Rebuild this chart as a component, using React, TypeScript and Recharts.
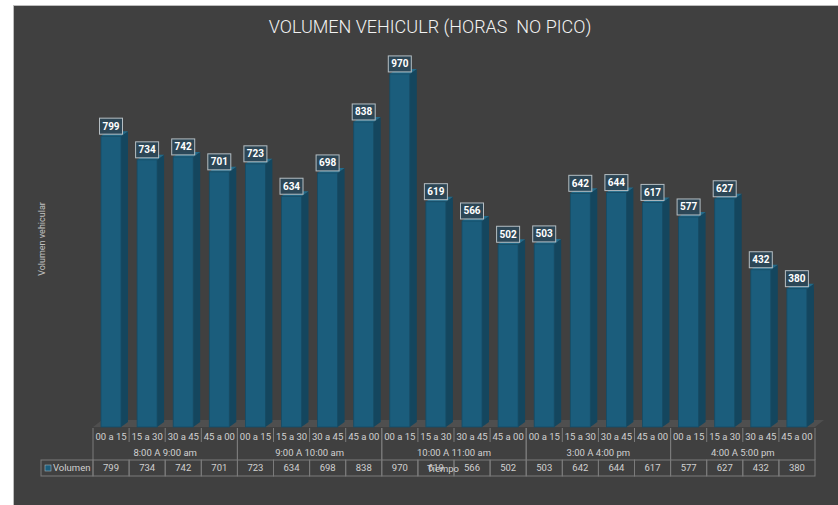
import React from 'react';
import { BarChart, Bar, XAxis, YAxis, LabelList } from 'recharts';

// intervalos de 15 min dentro de cada hora
const intervals = ['00 a 15', '15 a 30', '30 a 45', '45 a 00'];
const hourGroups = ['8:00 A 9:00 am', '9:00 A 10:00 am', '10:00 A 11:00 am', '3:00 A 4:00 pm', '4:00 A 5:00 pm'];
const volumen = [799, 734, 742, 701, 723, 634, 698, 838, 970, 619, 566, 502, 503, 642, 644, 617, 577, 627, 432, 380];

const data = volumen.map((v, i) => ({
  key: `${hourGroups[Math.floor(i / 4)]} ${intervals[i % 4]}`,
  label: intervals[i % 4],
  group: hourGroups[Math.floor(i / 4)],
  volumen: v,
}));

const W = 838;
const H = 505;
const PLOT_LEFT = 93;
const PLOT_RIGHT = 815;
const PLOT_TOP = 63;
const PLOT_BOTTOM = 427;
const BAND = (PLOT_RIGHT - PLOT_LEFT) / volumen.length;
const FONT = 'Roboto, "Noto Sans", sans-serif';
const GRID = '#7b7b7b';
const TEXT = '#d0d0d0';

const Bar3D = (props: any) => {
  const { x, y, width, height } = props;
  const d = 7;
  const h = 5;
  const b = y + height;
  return (
    <g>
      <polygon points={`${x + width},${y} ${x + width + d},${y - h} ${x + width + d},${b - h} ${x + width},${b}`} fill="#14465e" />
      <polygon points={`${x},${y} ${x + d},${y - h} ${x + width + d},${y - h} ${x + width},${y}`} fill="#226b8b" />
      <rect x={x} y={y} width={width} height={height} fill="#1b5d7c" stroke="#154c66" strokeWidth={0.8} />
    </g>
  );
};

const ValueBox = (props: any) => {
  const { x, y, width, value } = props;
  const cx = x + width / 2;
  const bw = 23;
  const bh = 16;
  return (
    <g>
      <rect x={cx - bw / 2} y={y - bh - 2} width={bw} height={bh} fill="#2c4756" fillOpacity={0.95} stroke="#b5bec3" strokeWidth={1} />
      <text x={cx} y={y - 2 - bh / 2} dy="0.35em" textAnchor="middle" fill="#ffffff" fontSize={10} fontWeight={700} fontFamily={FONT}>
        {value}
      </text>
    </g>
  );
};

const YTitle = (props: any) => {
  const { viewBox } = props;
  const x = viewBox.x + 9;
  const y = viewBox.y + viewBox.height / 2 - 6;
  return (
    <text x={x} y={y} transform={`rotate(-90, ${x}, ${y})`} dy="0.35em" textAnchor="middle" fill="#c0c0c0" fontSize={9} fontFamily={FONT}>
      Volumen vehicular
    </text>
  );
};

// eje de categorías + tabla de datos, una columna por tick
const AxisTable = (props: any) => {
  const { x, y, index } = props;
  const row = data[index];
  if (!row) return null;
  const left = x - BAND / 2;
  const right = x + BAND / 2;
  const groupStart = index % 4 === 0;
  const groupEnd = index % 4 === 3;
  return (
    <g fontFamily={FONT}>
      <text x={x} y={y + 10} dy="0.35em" textAnchor="middle" fill={TEXT} fontSize={9.5}>{row.label}</text>
      {!groupEnd && <line x1={right} x2={right} y1={y + 1} y2={y + 15} stroke={GRID} />}
      {groupStart && <line x1={left} x2={left} y1={y + 1} y2={y + 33} stroke={GRID} />}
      {groupEnd && <line x1={right} x2={right} y1={y + 1} y2={y + 33} stroke={GRID} />}
      {index % 4 === 1 && (
        <text x={right} y={y + 26} dy="0.35em" textAnchor="middle" fill={TEXT} fontSize={9.5}>{row.group}</text>
      )}
      <rect x={left} y={y + 33} width={BAND} height={16} fill="none" stroke={GRID} />
      <text x={x} y={y + 41} dy="0.35em" textAnchor="middle" fill={TEXT} fontSize={9.5}>{row.volumen}</text>
      {index === 0 && (
        <g>
          <rect x={41} y={y + 33} width={left - 41} height={16} fill="none" stroke={GRID} />
          <rect x={45} y={y + 38} width={6} height={6} fill="#1b5d7c" stroke="#9fb3bd" strokeWidth={0.6} />
          <text x={53} y={y + 41} dy="0.35em" fill={TEXT} fontSize={9.5}>Volumen</text>
        </g>
      )}
    </g>
  );
};

export default function App() {
  return (
    <div style={{ position: 'absolute', left: 0, top: 0, width: W, height: H, background: '#ffffff', overflow: 'hidden' }}>
      <div style={{ position: 'absolute', left: 13, top: 5, width: W - 13, height: H - 5, background: '#404040', borderLeft: '1px solid #bdbdbd', borderTop: '1px solid #bdbdbd', boxSizing: 'border-box' }} />
      <svg width={W} height={H} style={{ position: 'absolute', left: 0, top: 0 }}>
        {/* piso 3D */}
        <polygon points={`${PLOT_LEFT},${PLOT_BOTTOM} ${PLOT_RIGHT},${PLOT_BOTTOM} ${PLOT_RIGHT + 9},${PLOT_BOTTOM - 7} ${PLOT_LEFT + 9},${PLOT_BOTTOM - 7}`} fill="#4f4f4f" />
      </svg>
      <div style={{ position: 'absolute', left: 0, top: 16, width: 860, textAlign: 'center', color: '#f2f2f2', fontFamily: FONT, fontSize: 18, fontWeight: 300 }}>
        VOLUMEN VEHICULR (HORAS&nbsp; NO PICO)
      </div>
      <div style={{ position: 'absolute', left: 0, top: 0 }}>
        <BarChart width={W} height={H} data={data} margin={{ top: PLOT_TOP, right: W - PLOT_RIGHT, bottom: 0, left: PLOT_LEFT - 60 }}>
          <XAxis
            dataKey="key"
            height={H - PLOT_BOTTOM}
            interval={0}
            tickLine={false}
            axisLine={false}
            tickSize={0}
            tickMargin={0}
            tick={<AxisTable />}
            label={{ value: 'Tiempo', position: 'insideBottom', offset: 33, dx: -11, fill: TEXT, fontSize: 9.5, fontFamily: FONT }}
          />
          <YAxis
            domain={[0, 1000]}
            width={60}
            tick={false}
            tickLine={false}
            axisLine={false}
            label={<YTitle />}
          />
          <Bar dataKey="volumen" barSize={20} shape={<Bar3D />} isAnimationActive={false}>
            <LabelList dataKey="volumen" content={<ValueBox />} />
          </Bar>
        </BarChart>
      </div>
    </div>
  );
}
